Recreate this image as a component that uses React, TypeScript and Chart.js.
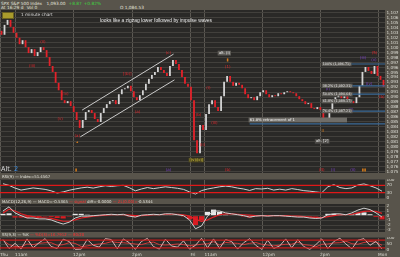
import React, { useEffect, useRef } from 'react';
import { Chart, registerables } from 'chart.js';
Chart.register(...registerables);

// ---------- data ----------
const FIRST_OPEN = 1103.4;
const CLOSES = [
  1102.6, 1104.6, 1105.6, 1104.2, 1103.0, 1102.0, 1100.7, 1101.5, 1100.1, 1098.9,
  1099.7, 1098.3, 1099.1, 1100.1, 1099.5, 1098.1, 1096.3, 1095.1, 1092.9, 1091.4,
  1089.4, 1088.8, 1089.2, 1088.2, 1087.0, 1085.4, 1083.8, 1085.4, 1087.0, 1087.4,
  1086.8, 1085.6, 1085.0, 1086.8, 1087.8, 1088.6, 1089.2, 1089.4, 1088.6, 1090.6,
  1091.6, 1091.8, 1092.3, 1091.2, 1090.0, 1089.4, 1090.4, 1091.4, 1092.7, 1093.7,
  1094.5, 1095.1, 1096.1, 1095.5, 1094.9, 1094.3, 1096.3, 1097.5, 1096.7, 1095.5,
  1094.1, 1092.7, 1092.1, 1089.4, 1081.3, 1078.7, 1084.4, 1083.4, 1086.6, 1088.6,
  1089.4, 1088.0, 1087.2, 1090.2, 1093.1, 1094.3, 1093.1, 1092.3, 1092.9, 1092.5,
  1091.8, 1090.6, 1089.8, 1090.0, 1089.4, 1090.2, 1091.0, 1091.4, 1090.6, 1090.0,
  1090.4, 1090.2, 1090.8, 1090.6, 1091.0, 1091.2, 1091.0, 1090.8, 1090.2, 1089.6,
  1089.2, 1088.6, 1088.8, 1087.8, 1087.6, 1088.0, 1087.4, 1085.2, 1085.8, 1087.0,
  1088.8, 1090.0, 1090.4, 1089.8, 1090.2, 1089.6, 1089.2, 1088.8, 1090.0, 1092.3,
  1095.1, 1096.1, 1095.3, 1094.7, 1096.3, 1094.3, 1093.5, 1092.1,
];
const PRICE_TICKS = [
  1075, 1076, 1077, 1078, 1079, 1080, 1081, 1082, 1083, 1084, 1085, 1086, 1087,
  1088, 1089, 1090, 1091, 1092, 1093, 1094, 1095, 1096, 1097, 1098, 1099, 1100,
  1101, 1102, 1103, 1104, 1105, 1106, 1107,
];
const TIME_TICK_POS = [-0.5, 4.5, 23.8, 43.4, 62.8, 67.5, 86.8, 105.9, 125.2];
const TIME_TICK_LABELS = ['Thu', '11am', '12pm', '2pm', 'Fri', '11am', '12pm', '2pm', 'Mon'];

const CHANNEL_UPPER = [{ x: 26.8, y: 1087.4 }, { x: 57.2, y: 1098.7 }];
const CHANNEL_LOWER = [{ x: 26.2, y: 1082.0 }, { x: 57.5, y: 1093.5 }];
const FIB_LEVELS = [1096.7, 1092.3, 1090.6, 1087.2, 1084.6];
const FIB_FROM = [106.8, 106.8, 106.8, 106.8, 82.5];
const FIB_LABEL_PRICES = [1096.7, 1092.3, 1090.6, 1089.2, 1087.2];
const FIB_LABEL_TEXTS = ['100% (1,096.71)', '38.2% (1,092.31)', '50.0% (1,090.64)', '61.8% (1,089.17)', '76.4% (1,087.21)'];

const RSI = [
  79, 70, 55, 44, 50, 56, 52, 48, 40, 28, 34, 43, 50, 56, 60, 55,
  62, 68, 64, 68, 70, 57, 40, 50, 58, 52, 57, 62, 58, 54, 48, 34,
  22, 41, 50, 56, 62, 66, 62, 55, 50, 42, 52, 50, 54, 44, 49, 44,
  52, 47, 41, 38, 34, 30, 62, 74, 58, 52, 56, 72, 78, 68, 56, 38,
];
const RSI_LEVELS = [70, 30];
const RSI_TICKS = [0, 30, 70, 100];

const MACD = [
  1.0, 1.9, 0.6, 0.0, -0.5, -0.5, -0.7, -0.7, -0.9, -1.4, -1.8, -1.4, -0.5, -0.1, -0.1, 0.0,
  0.1, 0.2, 0.3, 0.2, 0.3, -0.1, -0.3, 0.1, 0.2, 0.3, 0.2, 0.4, 0.4, 0.2, 0.0, -0.9,
  -2.8, -2.2, -0.1, 1.0, 1.0, 0.6, 0.4, 0.2, 0.0, -0.3, -0.1, 0.0, -0.1, 0.0, 0.0, -0.1,
  -0.2, -0.3, -0.3, -0.5, -0.6, -0.5, 0.2, 0.4, 0.4, 0.2, 0.6, 1.2, 1.6, 1.3, 0.6, -0.3,
];
const SIGNAL = [
  0.6, 1.4, 1.0, 0.4, 0.0, -0.2, -0.4, -0.5, -0.6, -0.9, -1.2, -1.2, -0.9, -0.5, -0.3, -0.1,
  0.0, 0.1, 0.2, 0.2, 0.2, 0.1, 0.0, 0.0, 0.1, 0.2, 0.2, 0.3, 0.3, 0.3, 0.2, -0.1,
  -0.8, -1.2, -0.9, -0.3, 0.2, 0.4, 0.4, 0.3, 0.2, 0.1, 0.0, 0.0, 0.0, 0.0, 0.0, 0.0,
  -0.1, -0.1, -0.2, -0.3, -0.4, -0.4, -0.2, 0.0, 0.2, 0.2, 0.3, 0.6, 0.9, 1.0, 0.9, 0.5,
];
const HIST = [
  0.4, 0.5, -0.4, -0.4, -0.5, -0.3, -0.3, -0.2, -0.3, -0.5, -0.6, -0.2, 0.4, 0.4, 0.2, 0.1,
  0.1, 0.1, 0.1, 0.0, 0.1, -0.2, -0.3, 0.1, 0.1, 0.1, 0.0, 0.1, 0.1, -0.1, -0.2, -0.8,
  -2.0, -1.0, 0.8, 1.3, 0.8, 0.2, 0.0, -0.1, -0.2, -0.4, -0.1, 0.0, -0.1, 0.0, 0.0, -0.1,
  -0.1, -0.2, -0.1, -0.2, -0.2, -0.1, 0.4, 0.4, 0.2, 0.0, 0.3, 0.6, 0.7, 0.3, -0.3, -0.8,
];
const MACD_TICKS = [-3, -2, -1, 0, 1, 2];

const STOCH_K = [
  85, 15, 55, 10, 90, 20, 60, 92, 30, 15, 88, 70, 8, 10, 85, 40,
  25, 92, 85, 12, 90, 60, 8, 70, 94, 30, 10, 88, 35, 25, 75, 10,
  40, 95, 20, 90, 15, 85, 70, 10, 60, 92, 40, 8, 80, 15, 35, 90,
  20, 85, 30, 8, 45, 90, 15, 70, 95, 50, 12, 80, 92, 40, 70, 10,
];
const STOCH_D = [
  80, 45, 30, 28, 50, 45, 55, 60, 60, 40, 45, 60, 55, 30, 35, 45,
  50, 55, 68, 62, 60, 55, 50, 45, 58, 65, 45, 42, 45, 50, 45, 38,
  42, 48, 52, 68, 42, 62, 58, 55, 45, 55, 62, 48, 42, 35, 42, 48,
  48, 65, 45, 40, 28, 48, 50, 58, 60, 72, 52, 48, 62, 70, 65, 40,
];
const STOCH_LEVELS = [80, 20];
const STOCH_TICKS = [0, 50, 100];

// ---------- styles ----------
const DARK = '#2a2927';
const TAUPE = '#58544b';
const GRID_H = '#42403c';
const GRID_V = '#5c5953';
const AXIS_TXT = '#deded6';
const UP = '#d4d4d4';
const DOWN = '#e3222a';
const RED = '#e3262c';
const PURPLE = '#7b42c8';
const ORANGE = '#d67c1c';
const YELLOW = '#dccb3c';
const FIB_BLUE = '#3a6a98';
const FONT = 'DejaVu Sans';

const WAVE_LABELS: any[] = [
  { t: '(ii)', i: 13.8, p: 1101.1, c: RED },
  { t: '(iii)', i: 10.2, p: 1096.3, c: RED },
  { t: '(iv)', i: 21.2, p: 1090.6, c: RED },
  { t: '(v)', i: 19.5, p: 1085.6, c: RED },
  { t: '(a)', i: 25.2, p: 1082.2, c: RED },
  { t: '▴', i: 25.2, p: 1081.0, c: ORANGE },
  { t: '[(b)]', i: 41.8, p: 1094.7, c: RED },
  { t: '(a)', i: 45.2, p: 1087.0, c: RED },
  { t: '(c)', i: 55.5, p: 1098.9, c: RED },
  { t: '(b)', i: 65.5, p: 1086.4, c: RED },
  { t: '(ii)', i: 66.8, p: 1080.3, c: RED },
  { t: '(i)', i: 68.8, p: 1091.8, c: RED },
  { t: '(iii)', i: 70.8, p: 1084.8, c: RED },
  { t: '[(v)/(c)]', i: 64.8, p: 1077.3, c: YELLOW, box: '#4a4420', s: 3.6 },
  { t: 'alt. (i)', i: 72.2, p: 1098.9, c: '#eeeeee', box: '#5e5c57', left: true, s: 3.8 },
  { t: '▮', i: 75.2, p: 1097.5, c: ORANGE },
  { t: '(1)', i: 75.2, p: 1096.1, c: RED },
  { t: '61.8% retracement of 1', i: 82.5, p: 1085.4, c: '#f2f2f2', box: '#6f6d68', left: true, toI: 115.2, s: 3.8 },
  { t: 'II', i: 106.8, p: 1083.2, c: ORANGE },
  { t: 'alt. [2]', i: 104.5, p: 1081.1, c: '#eeeeee', box: '#4e4c48', left: true, s: 3.8 },
  { t: '(i)', i: 108.5, p: 1091.6, c: PURPLE },
  { t: '(ii)', i: 116.2, p: 1087.4, c: PURPLE },
  { t: '(iii)', i: 120.2, p: 1097.9, c: PURPLE },
  { t: '(iv)', i: 122.2, p: 1092.7, c: PURPLE },
  { t: '(v)', i: 123.8, p: 1097.6, c: PURPLE },
  { t: '(5)', i: 124.0, p: 1099.0, c: RED },
  { t: '(b)', i: 126.4, p: 1090.0, c: RED },
  { t: '▮', i: 24.8, p: 1075.3, c: ORANGE },
  { t: '(a)', i: 55.5, p: 1075.3, c: PURPLE },
  { t: '(b)', i: 75.2, p: 1075.3, c: RED },
  { t: '(4)', i: 106.5, p: 1075.3, c: RED },
  { t: '(i)', i: 110.2, p: 1075.3, c: PURPLE },
  { t: '(ii)', i: 116.8, p: 1075.3, c: PURPLE },
  { t: '▮▮', i: 120.5, p: 1075.3, c: ORANGE },
];

const bgPlugin = {
  id: 'panelBg',
  beforeDraw(chart: any) {
    const { ctx, chartArea: a } = chart;
    ctx.save();
    ctx.fillStyle = DARK;
    ctx.fillRect(a.left, a.top, a.right - a.left, a.bottom - a.top);
    ctx.restore();
  },
};

const labelPlugin = {
  id: 'waveLabels',
  afterDatasetsDraw(chart: any) {
    const { ctx } = chart;
    const x = chart.scales.x, y = chart.scales.y;
    ctx.save();
    ctx.textBaseline = 'middle';
    const all = [
      ...WAVE_LABELS,
      ...FIB_LABEL_TEXTS.map((t, k) => ({ t, i: FIB_FROM[0], p: FIB_LABEL_PRICES[k], c: '#e0e0e0', box: '#5f5d58', left: true, s: 3.3 })),
    ];
    for (const a of all) {
      const size = a.s ?? 4.0;
      ctx.font = `${size}px "${FONT}"`;
      const px = x.getPixelForValue(a.i);
      const py = y.getPixelForValue(a.p);
      const w = ctx.measureText(a.t).width;
      const left = a.left ? px : px - w / 2;
      if (a.box) {
        const bw = a.toI != null ? x.getPixelForValue(a.toI) - left : w + 2;
        ctx.fillStyle = a.box;
        ctx.fillRect(left - 1, py - size / 2 - 0.5, bw, size + 1);
      }
      ctx.fillStyle = a.c;
      ctx.textAlign = 'left';
      ctx.fillText(a.t, left, py);
    }
    ctx.restore();
  },
};

const xAxis = (labels: boolean) => ({
  type: 'linear',
  min: -0.5,
  max: 127.5,
  offset: false,
  afterBuildTicks: (s: any) => { s.ticks = TIME_TICK_POS.map((v) => ({ value: v })); },
  afterFit: (s: any) => { s.height = labels ? 6 : 0; s.paddingLeft = 0; s.paddingRight = 0; },
  grid: { color: GRID_V, drawTicks: false, offset: false },
  border: { display: false },
  ticks: {
    display: labels, autoSkip: false, maxRotation: 0, minRotation: 0, align: 'start', padding: 1,
    color: AXIS_TXT, font: { size: 4.3, family: FONT },
    callback: (_v: any, idx: number) => TIME_TICK_LABELS[idx],
  },
});

const yAxis = (min: number, max: number, ticks: number[], fmt: (v: number) => string, grid = GRID_H) => ({
  type: 'linear',
  position: 'right',
  min, max,
  afterBuildTicks: (s: any) => { s.ticks = ticks.map((v) => ({ value: v })); },
  afterFit: (s: any) => { s.width = 15; s.paddingTop = 0; s.paddingBottom = 0; },
  grid: { color: grid, drawTicks: false },
  border: { display: false },
  ticks: { autoSkip: false, padding: 1.5, color: AXIS_TXT, font: { size: 4.2, family: FONT }, callback: (v: any) => fmt(Number(v)) },
});

const baseOptions = (y: any, showX: boolean) => ({
  responsive: false,
  animation: false,
  events: [],
  layout: { padding: 0 },
  plugins: { legend: { display: false }, tooltip: { enabled: false } },
  scales: { x: xAxis(showX), y },
});

const flatLine = (v: number, color: string, from = -0.5) => ({
  type: 'line',
  data: [{ x: from, y: v }, { x: 127.5, y: v }],
  borderColor: color, borderWidth: 1.2, pointRadius: 0, order: 0,
});

const idxX = (k: number) => 2 * k + 0.5;

export default function App() {
  const mainRef = useRef<HTMLCanvasElement>(null);
  const rsiRef = useRef<HTMLCanvasElement>(null);
  const macdRef = useRef<HTMLCanvasElement>(null);
  const stRef = useRef<HTMLCanvasElement>(null);

  useEffect(() => {
    const opens = CLOSES.map((_c, i) => (i === 0 ? FIRST_OPEN : CLOSES[i - 1]));
    const main = new Chart(mainRef.current as any, {
      type: 'bar',
      data: {
        datasets: [
          {
            type: 'bar',
            data: CLOSES.map((c, i) => ({ x: i, y: [opens[i], c] })),
            backgroundColor: CLOSES.map((c, i) => (c >= opens[i] ? UP : DOWN)),
            barPercentage: 0.6, categoryPercentage: 1, minBarLength: 1, order: 2,
          } as any,
          { type: 'line', data: CHANNEL_UPPER, borderColor: '#c9c9c9', borderWidth: 1, pointRadius: 0, order: 1 } as any,
          { type: 'line', data: CHANNEL_LOWER, borderColor: '#c9c9c9', borderWidth: 1, pointRadius: 0, order: 1 } as any,
          ...FIB_LEVELS.map((v, k) => flatLine(v, FIB_BLUE, FIB_FROM[k]) as any),
        ],
      },
      options: baseOptions(yAxis(1074.7, 1107.6, PRICE_TICKS, (v) => v.toLocaleString('en-US')), false) as any,
      plugins: [bgPlugin, labelPlugin],
    });

    const rsi = new Chart(rsiRef.current as any, {
      type: 'line',
      data: {
        datasets: [
          ...RSI_LEVELS.map((v) => flatLine(v, '#e01818') as any),
          { data: RSI.map((v, k) => ({ x: idxX(k), y: v })), borderColor: '#cfcfcf', borderWidth: 1, pointRadius: 0, order: 1 },
        ],
      },
      options: baseOptions(yAxis(-5, 105, RSI_TICKS, (v) => String(v)), false) as any,
      plugins: [bgPlugin],
    });

    const macd = new Chart(macdRef.current as any, {
      type: 'bar',
      data: {
        datasets: [
          {
            type: 'bar',
            data: HIST.map((v, k) => ({ x: idxX(k), y: v })),
            backgroundColor: HIST.map((v) => (v >= 0 ? '#e8e8e8' : '#d81c22')),
            barPercentage: 0.85, categoryPercentage: 1, order: 3,
          } as any,
          { type: 'line', data: SIGNAL.map((v, k) => ({ x: idxX(k), y: v })), borderColor: '#e02026', borderWidth: 1.2, pointRadius: 0, order: 2 } as any,
          { type: 'line', data: MACD.map((v, k) => ({ x: idxX(k), y: v })), borderColor: '#cfcfcf', borderWidth: 1, pointRadius: 0, order: 1 } as any,
        ],
      },
      options: baseOptions(yAxis(-3.5, 2.5, MACD_TICKS, (v) => String(v)), false) as any,
      plugins: [bgPlugin],
    });

    const st = new Chart(stRef.current as any, {
      type: 'line',
      data: {
        datasets: [
          ...STOCH_LEVELS.map((v) => flatLine(v, '#c81a1a') as any),
          { data: STOCH_D.map((v, k) => ({ x: idxX(k), y: v })), borderColor: '#d03a3a', borderWidth: 1, pointRadius: 0, order: 2 },
          { data: STOCH_K.map((v, k) => ({ x: idxX(k), y: v })), borderColor: '#d8b4b4', borderWidth: 1, pointRadius: 0, order: 1 },
        ],
      },
      options: baseOptions(yAxis(-5, 105, STOCH_TICKS, (v) => String(v)), true) as any,
      plugins: [bgPlugin],
    });

    return () => { main.destroy(); rsi.destroy(); macd.destroy(); st.destroy(); };
  }, []);

  const small: React.CSSProperties = { position: 'absolute', fontFamily: FONT, fontSize: 4.3, lineHeight: '5px', color: '#e4e4dc', whiteSpace: 'nowrap' };
  const canvasBox = (top: number): React.CSSProperties => ({ position: 'absolute', left: 0, top, display: 'block' });

  return (
    <div style={{ position: 'fixed', left: 0, top: 0, width: 400, height: 257, background: TAUPE, overflow: 'hidden' }}>
      <div style={{ ...small, left: 1, top: 0.5 }}>
        SPX S&amp;P 500 Index <span style={{ marginLeft: 3 }}>1,093.00</span>
        <span style={{ marginLeft: 3, color: '#3fd23f' }}>+8.87</span>
        <span style={{ marginLeft: 2, color: '#3fd23f' }}>+0.82%</span>
      </div>
      <div style={{ ...small, left: 1, top: 5 }}>At 16:29 d <span style={{ marginLeft: 2 }}>Vol 0</span></div>
      <div style={{ ...small, left: 120, top: 5 }}>O 1,084.53</div>

      <canvas ref={mainRef} width={400} height={163} style={canvasBox(10)} />
      <div style={{ position: 'absolute', left: 2, top: 12, width: 10, height: 4.5, background: '#a99b2c', border: '0.5px solid #6b6120' }} />
      <div style={{ ...small, left: 21, top: 11.8, color: '#dcdcdc' }}>1 minute chart</div>
      <div style={{ ...small, left: 100, top: 18, fontSize: 4.9, lineHeight: '6px', fontFamily: 'Liberation Sans', color: '#ececec' }}>
        looks like a zigzag lower followed by impulse waves
      </div>
      <div style={{ position: 'absolute', left: 1, top: 165.5, fontFamily: FONT, fontSize: 6.5, lineHeight: '7px', color: '#dedede' }}>
        Alt. <span style={{ color: '#3a90ea' }}>2</span>
      </div>

      <div style={{ ...small, left: 2, top: 173.5, fontSize: 3.9 }}>RSI(9) — Index=51.4567</div>
      <canvas ref={rsiRef} width={400} height={20} style={canvasBox(179)} />

      <div style={{ ...small, left: 2, top: 199, fontSize: 3.9 }}>
        MACD(12,26,9) — MACD=-0.5365 <span style={{ color: '#ff3030' }}>— signal</span> diff=-0.0000
        <span style={{ color: '#ff3030' }}> — ZL(0.00)=</span>-0.5344
      </div>
      <canvas ref={macdRef} width={400} height={28} style={canvasBox(204)} />

      <div style={{ ...small, left: 2, top: 232.2, fontSize: 3.9 }}>
        SS(9,3) — %K <span style={{ color: '#ff3030' }}>— %D(3)=16.7912 — 80/20</span>
      </div>
      <canvas ref={stRef} width={400} height={20} style={canvasBox(237)} />
    </div>
  );
}
